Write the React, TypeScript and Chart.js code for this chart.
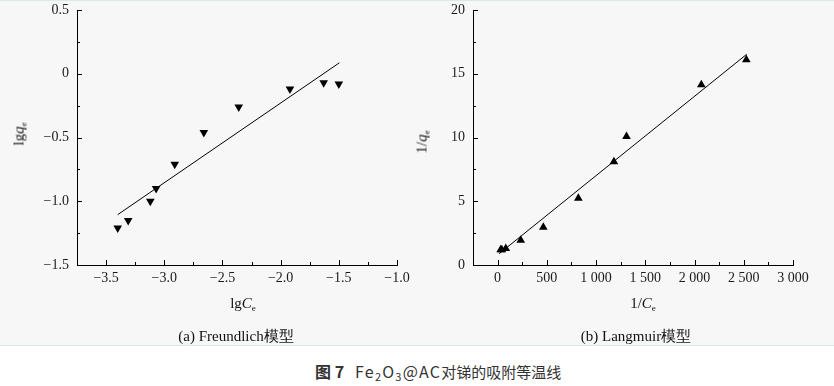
import React, { useEffect, useRef } from "react";
import { Chart, registerables } from "chart.js";
Chart.register(...registerables);

// (a) Freundlich
const lgCe = [-3.40, -3.31, -3.12, -3.07, -2.91, -2.66, -2.36, -1.92, -1.63, -1.50];
const lgQe = [-1.21, -1.15, -1.0, -0.9, -0.71, -0.46, -0.26, -0.12, -0.07, -0.08];
const freundFitX = [-3.40, -1.495];
const freundFitY = [-1.105, 0.086];

// (b) Langmuir
const invCe = [2526, 2069, 1309, 1181, 820, 464, 235, 83, 43, 31];
const invQe = [16.1, 14.14, 10.08, 8.1, 5.23, 2.97, 1.95, 1.3, 1.2, 1.2];
const langFitX = [15, 2530];
const langFitY = [0.88, 16.53];

const leftXTicks = [-3.5, -3.0, -2.5, -2.0, -1.5, -1.0];
const leftXLabels = ["\u22123.5", "\u22123.0", "\u22122.5", "\u22122.0", "\u22121.5", "\u22121.0"];
const leftYTicks = [-1.5, -1.0, -0.5, 0, 0.5];
const leftYLabels = ["\u22121.5", "\u22121.0", "\u22120.5", "0", "0.5"];
const rightXTicks = [0, 500, 1000, 1500, 2000, 2500, 3000];
const rightXLabels = ["0", "500", "1 000", "1 500", "2 000", "2 500", "3 000"];
const rightYTicks = [0, 5, 10, 15, 20];
const rightYLabels = ["0", "5", "10", "15", "20"];

const SERIF = "'Liberation Serif', 'Times New Roman', serif";

const innerTicks = {
  id: "innerTicks",
  afterDraw(chart: any) {
    const ctx = chart.ctx;
    const area = chart.chartArea;
    ctx.save();
    ctx.strokeStyle = "#000";
    ctx.lineWidth = 1;
    const draw = (scale: any, horizontal: boolean) => {
      const majors = scale.ticks.map((t: any) => t.value);
      const step = majors[1] - majors[0];
      const minors = [majors[0] - step / 2, ...majors.map((v: number) => v + step / 2)].filter(
        (v: number) => v > scale.min + 1e-9 && v <= scale.max + 1e-9
      );
      const mark = (v: number, len: number) => {
        if (horizontal) {
          const px = Math.round(scale.getPixelForValue(v)) + 0.5;
          ctx.beginPath();
          ctx.moveTo(px, area.bottom);
          ctx.lineTo(px, area.bottom - len);
          ctx.stroke();
        } else {
          const py = Math.round(scale.getPixelForValue(v)) + 0.5;
          ctx.beginPath();
          ctx.moveTo(area.left, py);
          ctx.lineTo(area.left + len, py);
          ctx.stroke();
        }
      };
      majors.forEach((v: number) => mark(v, 5));
      minors.forEach((v: number) => mark(v, 3));
    };
    draw(chart.scales.x, true);
    draw(chart.scales.y, false);
    ctx.restore();
  },
};

type Cfg = {
  xs: number[];
  ys: number[];
  fitX: number[];
  fitY: number[];
  rotation: number;
  xMin: number;
  xMax: number;
  yMin: number;
  yMax: number;
  xTicks: number[];
  xLabels: string[];
  yTicks: number[];
  yLabels: string[];
  yWidth: number;
  padRight: number;
};

function Plot({ cfg, left }: { cfg: Cfg; left: number }) {
  const ref = useRef<HTMLCanvasElement | null>(null);
  useEffect(() => {
    if (!ref.current) return;
    const tickFont = { family: SERIF, size: 14 };
    const chart = new Chart(ref.current, {
      type: "scatter",
      data: {
        datasets: [
          {
            data: cfg.xs.map((x, i) => ({ x, y: cfg.ys[i] })),
            pointStyle: "triangle",
            rotation: cfg.rotation,
            pointRadius: 5,
            pointBackgroundColor: "#000",
            pointBorderColor: "#000",
            pointBorderWidth: 0,
            showLine: false,
          } as any,
          {
            type: "line",
            data: cfg.fitX.map((x, i) => ({ x, y: cfg.fitY[i] })),
            borderColor: "#000",
            borderWidth: 1,
            pointRadius: 0,
            fill: false,
            showLine: true,
          } as any,
        ],
      },
      options: {
        animation: false,
        responsive: false,
        devicePixelRatio: 1,
        layout: { padding: { top: 10, right: cfg.padRight, left: 0, bottom: 0 } },
        plugins: { legend: { display: false }, tooltip: { enabled: false } },
        scales: {
          x: {
            type: "linear",
            min: cfg.xMin,
            max: cfg.xMax,
            grid: { display: false, drawTicks: false },
            border: { display: true, color: "#000", width: 1 },
            afterBuildTicks: (s: any) => {
              s.ticks = cfg.xTicks.map((v) => ({ value: v }));
            },
            afterFit: (s: any) => {
              s.height = 35;
              s.paddingLeft = 0;
              s.paddingRight = 0;
            },
            ticks: {
              font: tickFont,
              color: "#1a1a1a",
              padding: 5,
              maxRotation: 0,
              autoSkip: false,
              callback: (v: any) => {
                const i = cfg.xTicks.findIndex((t) => Math.abs(t - v) < 1e-6);
                return i >= 0 ? cfg.xLabels[i] : "";
              },
            },
          },
          y: {
            type: "linear",
            min: cfg.yMin,
            max: cfg.yMax,
            grid: { display: false, drawTicks: false },
            border: { display: true, color: "#000", width: 1 },
            afterBuildTicks: (s: any) => {
              s.ticks = cfg.yTicks.map((v) => ({ value: v }));
            },
            afterFit: (s: any) => {
              s.width = cfg.yWidth;
              s.paddingTop = 0;
              s.paddingBottom = 0;
            },
            ticks: {
              font: tickFont,
              color: "#1a1a1a",
              padding: 8,
              autoSkip: false,
              callback: (v: any) => {
                const i = cfg.yTicks.findIndex((t) => Math.abs(t - v) < 1e-6);
                return i >= 0 ? cfg.yLabels[i] : "";
              },
            },
          },
        },
      } as any,
      plugins: [innerTicks],
    });
    return () => chart.destroy();
  }, []);
  return (
    <canvas
      ref={ref}
      width={417}
      height={300}
      style={{ position: "absolute", left, top: 0, width: 417, height: 300 }}
    />
  );
}

const leftCfg: Cfg = {
  xs: lgCe,
  ys: lgQe,
  fitX: freundFitX,
  fitY: freundFitY,
  rotation: 180,
  xMin: -3.75,
  xMax: -1.0,
  yMin: -1.5,
  yMax: 0.5,
  xTicks: leftXTicks,
  xLabels: leftXLabels,
  yTicks: leftYTicks,
  yLabels: leftYLabels,
  yWidth: 77,
  padRight: 20,
};

const rightCfg: Cfg = {
  xs: invCe,
  ys: invQe,
  fitX: langFitX,
  fitY: langFitY,
  rotation: 0,
  xMin: -250,
  xMax: 3000,
  yMin: 0,
  yMax: 20,
  xTicks: rightXTicks,
  xLabels: rightXLabels,
  yTicks: rightYTicks,
  yLabels: rightYLabels,
  yWidth: 56,
  padRight: 41,
};

const txt = (x: number, y: number, rotate = false): React.CSSProperties => ({
  position: "absolute",
  left: x,
  top: y,
  transform: `translate(-50%, -50%)${rotate ? " rotate(-90deg)" : ""}`,
  whiteSpace: "nowrap",
  fontFamily: SERIF,
  fontSize: 15,
  color: "#111",
  lineHeight: 1,
});

const subStyle: React.CSSProperties = { fontSize: 9, verticalAlign: "-3px" };
const chemSub: React.CSSProperties = { fontSize: 11, verticalAlign: "-3px" };

export default function App() {
  return (
    <div
      style={{
        position: "absolute",
        left: 0,
        top: 0,
        width: 834,
        height: 386,
        background: "#fff",
        overflow: "hidden",
      }}
    >
      <div
        style={{
          position: "absolute",
          left: 0,
          top: 0,
          width: 834,
          height: 346,
          background: "#f7f7f7",
          borderTop: "1px solid #dce8e8",
          borderBottom: "1px solid #dce8e8",
          boxSizing: "border-box",
        }}
      />
      <Plot cfg={leftCfg} left={0} />
      <Plot cfg={rightCfg} left={417} />

      <div style={txt(20, 134, true)}>
        lg<i>q</i>
        <span style={subStyle}>e</span>
      </div>
      <div style={txt(243, 304)}>
        lg<i>C</i>
        <span style={subStyle}>e</span>
      </div>
      <div style={txt(236, 336)}>(a) Freundlich模型</div>

      <div style={txt(423, 142, true)}>
        1/<i>q</i>
        <span style={subStyle}>e</span>
      </div>
      <div style={txt(643, 304)}>
        1/<i>C</i>
        <span style={subStyle}>e</span>
      </div>
      <div style={txt(636, 336)}>(b) Langmuir模型</div>

      <div
        style={{
          position: "absolute",
          left: 315,
          top: 372,
          transform: "translateY(-50%)",
          whiteSpace: "nowrap",
          fontFamily: "'Noto Sans CJK SC', 'Noto Sans', sans-serif",
          fontSize: 15,
          color: "#333",
          lineHeight: 1,
        }}
      >
        <b style={{ fontSize: 16 }}>图 7</b>
        <span style={{ display: "inline-block", width: 11 }} />
        <span style={{ fontSize: 16, letterSpacing: 1.2 }}>
          Fe<span style={chemSub}>2</span>O<span style={chemSub}>3</span>@AC
        </span>
        对锑的吸附等温线
      </div>
    </div>
  );
}
